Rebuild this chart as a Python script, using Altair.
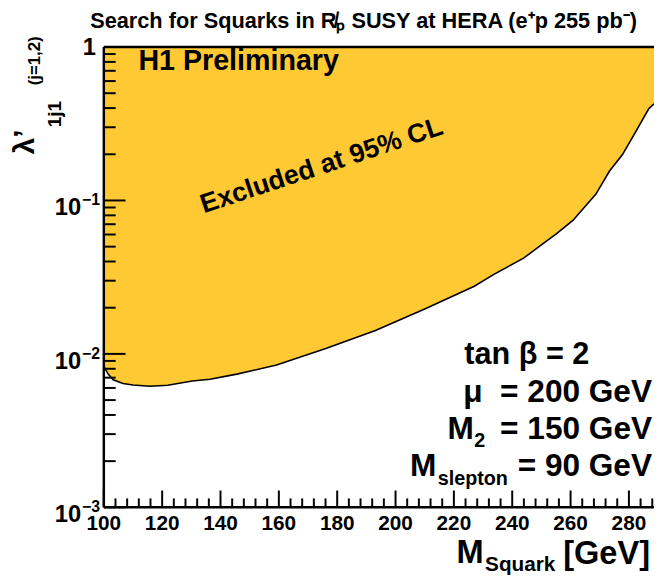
import altair as alt
import pandas as pd

# ---------------- data ----------------
m_squark = [100, 101.5, 103.2, 106.6, 110, 115.8, 121.9, 130.3, 136.4, 145.6,
            159.2, 176.1, 193.1, 210, 227, 233.7, 243.9, 255.2, 260.8, 268.7,
            273.3, 277.8, 282.3, 286.8, 288.6]
lam_limit = [0.0083, 0.00738, 0.00678, 0.00641, 0.00627, 0.00615, 0.00625, 0.00665,
             0.00684, 0.00738, 0.00846, 0.01083, 0.0142, 0.0196, 0.0276, 0.0330,
             0.0421, 0.0608, 0.0741, 0.110, 0.155, 0.199, 0.280, 0.396, 0.426]

x_major = [100, 120, 140, 160, 180, 200, 220, 240, 260, 280]
x_minor = [v for v in range(104, 289, 4) if v % 20 != 0]
y_major = [0.001, 0.01, 0.1, 1]
y_minor = [k * 10.0 ** e for e in (-3, -2, -1) for k in range(2, 10)]
y_label_vals = [0.001, 0.01, 0.1]
y_label_exps = ["\u22123", "\u22122", "\u22121"]

# ---------------- style ----------------
FONT = "Liberation Sans"
FILL = "#FFC934"
W, H = 557, 466
OX, OY = 105, 44  # plot origin on page

xs = alt.Scale(domain=[100, 288.6], nice=False, zero=False)
ys = alt.Scale(type="log", domain=[0.001, 1], nice=False)

df = pd.DataFrame({"m": m_squark, "lam": lam_limit})
base = alt.Chart(df)

area = base.mark_area(color=FILL, opacity=1).encode(
    x=alt.X("m:Q", scale=xs, axis=None),
    y=alt.Y("lam:Q", scale=ys, axis=None),
    y2=alt.datum(1),
)

line = base.mark_line(color="black", strokeWidth=1.6).encode(
    x=alt.X("m:Q", scale=xs, axis=None),
    y=alt.Y("lam:Q", scale=ys, axis=None),
)


def single():
    return alt.Data(values=[{"k": 0}])


# frame lines
left_rule = alt.Chart(single()).mark_rule(color="black", strokeWidth=2.5).encode(
    x=alt.value(0), y=alt.value(0), y2=alt.value(H))
bottom_rule = alt.Chart(single()).mark_rule(color="black", strokeWidth=2.5).encode(
    x=alt.value(0), x2=alt.value(W), y=alt.value(H))
top_rule = alt.Chart(single()).mark_rule(color="black", strokeWidth=2.5).encode(
    x=alt.value(0), x2=alt.value(W), y=alt.value(0))

# inward ticks (positions from the scales)
xt_major = pd.DataFrame({"xt": x_major})
xt_minor = pd.DataFrame({"xm": x_minor})
yt_major = pd.DataFrame({"yt": y_major})
yt_minor = pd.DataFrame({"ym": y_minor})

xtick_major = alt.Chart(xt_major).mark_tick(
    color="black", orient="vertical", size=17, thickness=2, opacity=1).encode(
    x=alt.X("xt:Q", scale=xs, axis=None), y=alt.value(H - 8.5))
xtick_minor = alt.Chart(xt_minor).mark_tick(
    color="black", orient="vertical", size=9, thickness=2, opacity=1).encode(
    x=alt.X("xm:Q", scale=xs, axis=None), y=alt.value(H - 4.5))
ytick_major = alt.Chart(yt_major).mark_tick(
    color="black", orient="horizontal", size=22, thickness=2, opacity=1).encode(
    y=alt.Y("yt:Q", scale=ys, axis=None), x=alt.value(11))
ytick_minor = alt.Chart(yt_minor).mark_tick(
    color="black", orient="horizontal", size=12, thickness=2, opacity=1).encode(
    y=alt.Y("ym:Q", scale=ys, axis=None), x=alt.value(6))

# tick labels
xlab_df = pd.DataFrame({"xl": x_major})
xlab = alt.Chart(xlab_df).mark_text(
    align="center", baseline="top", font=FONT, fontSize=21, fontWeight="bold",
    color="black").encode(
    x=alt.X("xl:Q", scale=xs, axis=None), y=alt.value(H + 6), text="xl:Q")

ylab_df = pd.DataFrame({"v": y_label_vals, "e": y_label_exps})
ylab_base = alt.Chart(ylab_df).mark_text(
    text="10", align="right", baseline="middle", dy=8, font=FONT, fontSize=24,
    fontWeight="bold", color="black").encode(
    y=alt.Y("v:Q", scale=ys, axis=None), x=alt.value(-23))
ylab_exp = alt.Chart(ylab_df).mark_text(
    align="left", baseline="middle", dy=0, font=FONT, fontSize=16,
    fontWeight="bold", color="black").encode(
    y=alt.Y("v:Q", scale=ys, axis=None), x=alt.value(-22), text="e:N")
ylab_one = alt.Chart(single()).mark_text(
    text="1", align="right", baseline="middle", dy=1, font=FONT, fontSize=24,
    fontWeight="bold", color="black").encode(
    y=alt.YDatum(1, scale=ys, axis=None), x=alt.value(-8))


def txt(s, x, y, size, align="left", baseline="alphabetic", angle=0, weight="bold"):
    return alt.Chart(single()).mark_text(
        text=s, align=align, baseline=baseline, angle=angle, font=FONT,
        fontSize=size, fontWeight=weight, color="black").encode(
        x=alt.value(x - OX), y=alt.value(y - OY))


texts = [
    txt("Search for Squarks in R\u0338\u209a SUSY at HERA (e\u207ap 255 pb\u207b)", 368, 25, 22, align="center"),
    txt("H1 Preliminary", 140, 67, 29),
    txt("Excluded at 95% CL", 328, 172, 27, align="center", angle=341.7),
    txt("tan \u03b2 = 2", 470, 365, 31),
    txt("\u03bc\u00a0 = 200 GeV", 660, 403, 32, align="right"),
    txt("M", 453, 441, 32),
    txt("2", 480, 449, 20),
    txt("= 150 GeV", 660, 441, 32, align="right"),
    txt("M", 415, 478, 32),
    txt("slepton", 443, 487, 20),
    txt("= 90 GeV", 660, 478, 32, align="right"),
    txt("M", 462, 566, 33),
    txt("Squark", 491, 574, 21),
    txt("[GeV]", 570, 567, 33),
    txt("\u03bb\u2019", 25, 140, 30, align="center", baseline="middle", angle=270),
    txt("1j1", 56, 112, 19, align="center", baseline="middle", angle=270),
    txt("(j=1,2)", 35, 58, 17, align="center", baseline="middle", angle=270),
]

chart = alt.layer(
    area, line, top_rule, left_rule, bottom_rule,
    xtick_major, xtick_minor, ytick_major, ytick_minor,
    xlab, ylab_base, ylab_exp, ylab_one, *texts
).properties(
    width=W, height=H,
    padding={"left": OX - 8, "top": OY - 8, "right": 0, "bottom": 583 - 8 - OY - H},
    autosize=alt.AutoSizeParams(type="none"),
).configure_view(stroke=None)

chart.save("out.html", embed_options={"renderer": "svg", "actions": False})
